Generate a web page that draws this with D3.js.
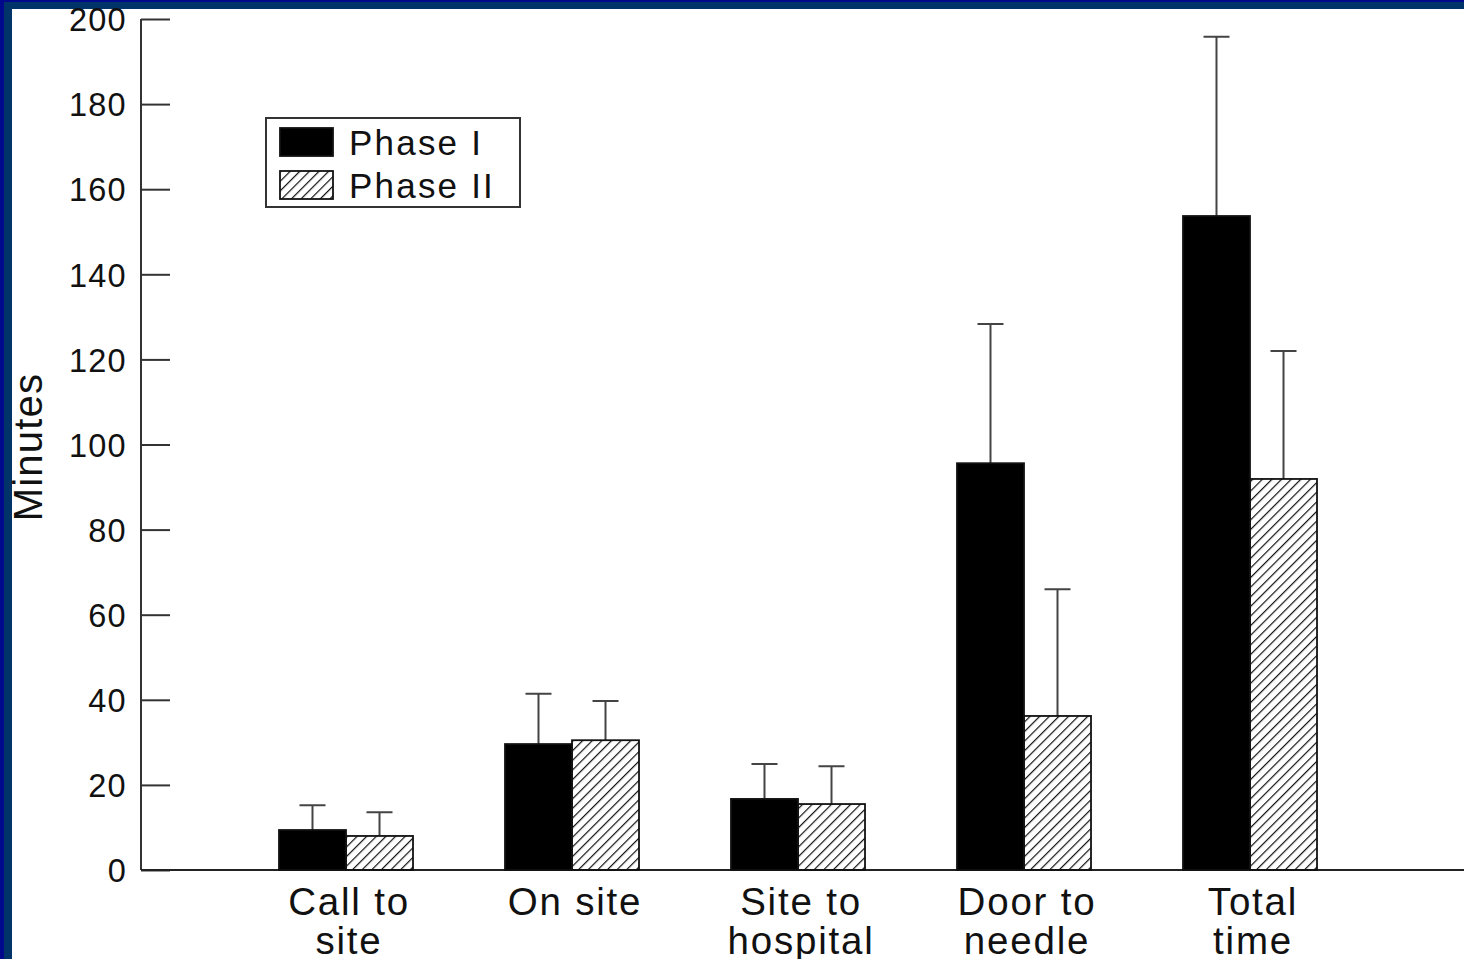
<!DOCTYPE html>
<html>
<head>
<meta charset="utf-8">
<script src="https://cdn.jsdelivr.net/npm/d3@7"></script>
<style>
  body { margin: 0; background: #fff; }
  svg { display: block; font-family: "Liberation Sans", Arial, sans-serif; }
</style>
</head>
<body>
<script>
const width = 1464;
const height = 959;

// data
const categories = ["Call to\nsite", "On site", "Site to\nhospital", "Door to\nneedle", "Total\ntime"];
const phases = ["Phase I", "Phase II"];
const phase1 = [9.4, 29.6, 16.7, 95.6, 153.7];
const phase2 = [8.0, 30.5, 15.5, 36.2, 91.9];
const phase1Err = [15.2, 41.4, 24.9, 128.3, 195.8];
const phase2Err = [13.6, 39.7, 24.4, 66.0, 122.0];
const yTicks = [0, 20, 40, 60, 80, 100, 120, 140, 160, 180, 200];

const rows = categories.map((c, i) => ({
  cat: c,
  values: [
    { phase: phases[0], v: phase1[i], err: phase1Err[i] },
    { phase: phases[1], v: phase2[i], err: phase2Err[i] },
  ],
}));

const svg = d3
  .select("body")
  .append("svg")
  .attr("width", width)
  .attr("height", height);

// blue slide frame
svg.append("rect").attr("width", width).attr("height", height).attr("fill", "#00088c");
svg.append("rect").attr("x", 4).attr("y", 2).attr("width", width).attr("height", height).attr("fill", "#003468");
svg.append("rect").attr("x", 12).attr("y", 9).attr("width", width).attr("height", height).attr("fill", "#fff");

const defs = svg.append("defs");
defs
  .append("pattern")
  .attr("id", "hatch")
  .attr("patternUnits", "userSpaceOnUse")
  .attr("width", 6.8)
  .attr("height", 6.8)
  .attr("patternTransform", "rotate(45)")
  .append("line")
  .attr("x1", 0)
  .attr("y1", 0)
  .attr("x2", 0)
  .attr("y2", 6.8)
  .attr("stroke", "#111")
  .attr("stroke-width", 2.4);

const y = d3.scaleLinear().domain([0, 200]).range([870, 19]);
const x = d3.scaleBand().domain(categories).range([233, 1363]).paddingInner(0.407).paddingOuter(0.2035);
const xs = d3.scaleBand().domain(phases).range([0, x.bandwidth()]);
const fill = (p) => (p === phases[0] ? "#000" : "url(#hatch)");

// y axis
const yAxis = d3
  .axisRight(y)
  .tickValues(yTicks)
  .tickSize(29)
  .tickFormat((d) => d);

const ya = svg.append("g").attr("transform", "translate(141,0)").call(yAxis);
ya.select(".domain").attr("stroke", "#333").attr("stroke-width", 2).attr("d", `M0,${y(200)}V${y(0)}`);
ya.selectAll(".tick line").attr("stroke", "#333").attr("stroke-width", 2);
ya.selectAll(".tick text")
  .attr("x", -14)
  .attr("dy", "0.36em")
  .attr("text-anchor", "end")
  .attr("fill", "#111")
  .attr("font-size", 32.5)
  .attr("letter-spacing", 1.3);
ya.attr("font-family", null);

// x axis line
svg.append("line")
  .attr("x1", 141)
  .attr("x2", width)
  .attr("y1", y(0))
  .attr("y2", y(0))
  .attr("stroke", "#222")
  .attr("stroke-width", 2);

// bars
const groups = svg
  .selectAll("g.cat")
  .data(rows)
  .enter()
  .append("g")
  .attr("class", "cat")
  .attr("transform", (d) => `translate(${x(d.cat)},0)`);

// error bars
groups
  .selectAll("path.err")
  .data((d) => d.values)
  .enter()
  .append("path")
  .attr("class", "err")
  .attr("fill", "none")
  .attr("stroke", "#444")
  .attr("stroke-width", 2)
  .attr("d", (d) => {
    const cx = xs(d.phase) + xs.bandwidth() / 2;
    return `M${cx},${y(d.v)}V${y(d.err)}M${cx - 13},${y(d.err)}H${cx + 13}`;
  });

groups
  .selectAll("rect")
  .data((d) => d.values)
  .enter()
  .append("rect")
  .attr("x", (d) => xs(d.phase))
  .attr("width", xs.bandwidth())
  .attr("y", (d) => y(d.v))
  .attr("height", (d) => y(0) - y(d.v))
  .attr("fill", (d) => fill(d.phase))
  .attr("stroke", "#111")
  .attr("stroke-width", 1.8);

// category labels
svg.selectAll("text.cat")
  .data(categories)
  .enter()
  .append("text")
  .attr("class", "cat")
  .attr("text-anchor", "middle")
  .attr("font-size", 38.5)
  .attr("letter-spacing", 1.8)
  .attr("fill", "#111")
  .attr("transform", (d) => `translate(${x(d) + x.bandwidth() / 2 + 3},915)`)
  .selectAll("tspan")
  .data((d) => d.split("\n"))
  .enter()
  .append("tspan")
  .attr("x", 0)
  .attr("y", (d, i) => i * 39)
  .text((d) => d);

// y label
svg.append("text")
  .attr("transform", "translate(42,447) rotate(-90)")
  .attr("text-anchor", "middle")
  .attr("font-size", 40)
  .attr("letter-spacing", 1.2)
  .attr("fill", "#111")
  .text("Minutes");

// legend
const legend = svg.append("g").attr("transform", "translate(266,118)");
legend.append("rect")
  .attr("width", 254)
  .attr("height", 89)
  .attr("fill", "#fff")
  .attr("stroke", "#333")
  .attr("stroke-width", 2);

const li = legend
  .selectAll("g.item")
  .data(phases)
  .enter()
  .append("g")
  .attr("transform", (d, i) => `translate(14,${10 + i * 43})`);

li.append("rect")
  .attr("width", 53)
  .attr("height", 28)
  .attr("fill", (d) => fill(d))
  .attr("stroke", "#111")
  .attr("stroke-width", 1.8);

li.append("text")
  .attr("x", 69)
  .attr("y", 27)
  .attr("font-size", 35)
  .attr("letter-spacing", 2.2)
  .attr("fill", "#111")
  .text((d) => d);
</script>
</body>
</html>
